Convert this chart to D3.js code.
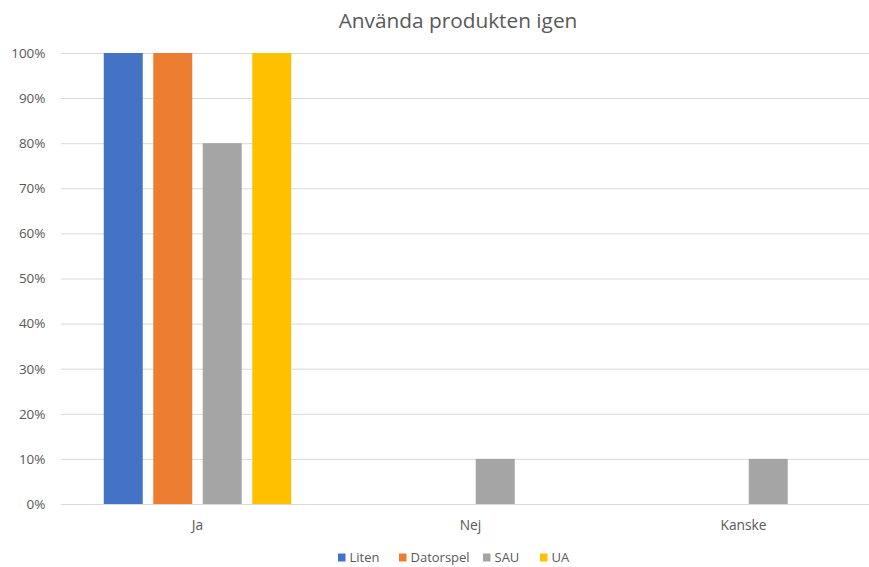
<!DOCTYPE html>
<html>
<head>
<meta charset="utf-8">
<script src="https://cdn.jsdelivr.net/npm/d3@7"></script>
<style>
  body { margin: 0; background: #fff; }
  svg { display: block; font-family: "Open Sans", "Liberation Sans", sans-serif; }
</style>
</head>
<body>
<svg id="chart" width="869" height="567"></svg>
<script>
// Answers and survey groups
const categories = ["Ja", "Nej", "Kanske"];
const seriesNames = ["Liten", "Datorspel", "SAU", "UA"];
const seriesColors = ["#4472C4", "#ED7D31", "#A5A5A5", "#FFC000"];
// share of respondents per answer (fraction), one array per group
const liten     = [1.0, 0.0, 0.0];
const datorspel = [1.0, 0.0, 0.0];
const sau       = [0.8, 0.1, 0.1];
const ua        = [1.0, 0.0, 0.0];
const yTicks = [0, 0.1, 0.2, 0.3, 0.4, 0.5, 0.6, 0.7, 0.8, 0.9, 1.0];
const titleText = "Använda produkten igen";

const seriesValues = [liten, datorspel, sau, ua];

const svg = d3.select("#chart");
const plot = { left: 61, right: 880, top: 53, bottom: 504 };
const labelFont = "'Open Sans', 'Liberation Sans', sans-serif";

const x = d3.scaleBand().domain(categories).range([plot.left, plot.right]).paddingInner(0).paddingOuter(0);
const groupPad = 42.75;
const xs = d3.scaleBand().domain(seriesNames)
  .range([groupPad, x.bandwidth() - groupPad]).paddingInner(0.212).paddingOuter(0);
const y = d3.scaleLinear().domain([0, 1]).range([plot.bottom, plot.top]);

// gridlines + y labels
const yAxis = d3.axisLeft(y).tickValues(yTicks).tickFormat(d3.format(".0%"))
  .tickSize(-(plot.right - plot.left)).tickPadding(15.5);
const gy = svg.append("g").attr("transform", `translate(${plot.left},0)`).call(yAxis);
gy.select(".domain").remove();
gy.selectAll(".tick line").attr("stroke", "#d9d9d9").attr("stroke-width", 1);
gy.selectAll(".tick text").attr("fill", "#595959").attr("font-size", 13.5)
  .attr("font-family", labelFont);

// bars
const rows = categories.map((c, i) => ({ cat: c, vals: seriesNames.map((s, j) => ({ s, j, v: seriesValues[j][i] })) }));
const groups = svg.append("g").selectAll("g").data(rows).join("g")
  .attr("transform", d => `translate(${x(d.cat)},0)`);
groups.selectAll("rect").data(d => d.vals.filter(v => v.v > 0)).join("rect")
  .attr("x", d => xs(d.s))
  .attr("width", xs.bandwidth())
  .attr("y", d => y(d.v))
  .attr("height", d => y(0) - y(d.v))
  .attr("fill", d => seriesColors[d.j]);

// category axis
const xAxis = d3.axisBottom(x).tickSize(0).tickPadding(16);
const gx = svg.append("g").attr("transform", `translate(0,${plot.bottom})`).call(xAxis);
gx.select(".domain").attr("stroke", "#d9d9d9");
gx.selectAll(".tick text").attr("fill", "#595959").attr("font-size", 13.75)
  .attr("font-family", labelFont);

// title
svg.append("text").attr("x", 458).attr("y", 28.3).attr("text-anchor", "middle")
  .attr("fill", "#595959").attr("font-size", 20.8).text(titleText);

// legend
const legendX = [338, 399, 483, 540];
const lg = svg.append("g").selectAll("g").data(seriesNames).join("g")
  .attr("transform", (d, i) => `translate(${legendX[i]},553.5)`);
lg.append("rect").attr("width", 7.5).attr("height", 8).attr("fill", (d, i) => seriesColors[i]);
lg.append("text").attr("x", 11.5).attr("y", 8.8).attr("fill", "#595959").attr("font-size", 13).text(d => d);
</script>
</body>
</html>
